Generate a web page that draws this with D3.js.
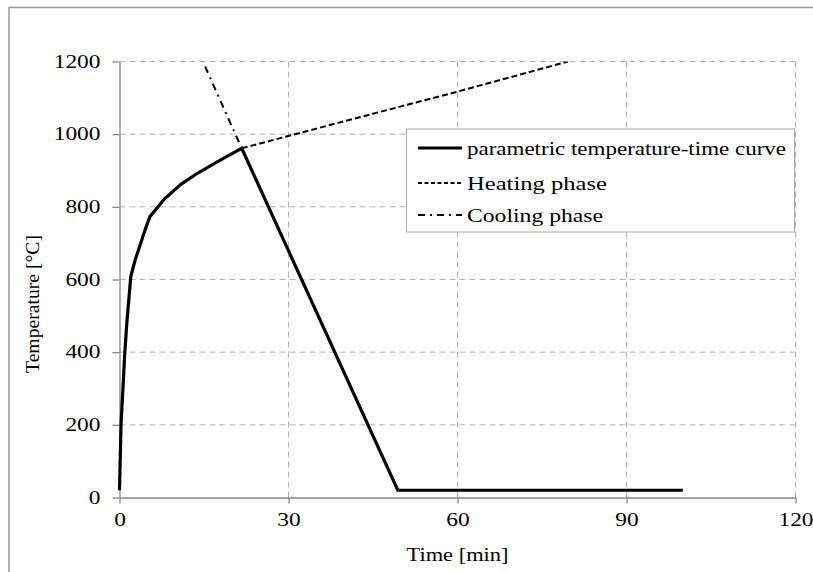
<!DOCTYPE html>
<html><head><meta charset="utf-8">
<script src="https://cdn.jsdelivr.net/npm/d3@7"></script>
<style>body{margin:0;background:#fff}svg{display:block}svg text{font-family:"Liberation Serif","Times New Roman",Times,serif !important;fill:#000}</style>
</head><body>
<script>
// Data
const xTicks = [0, 30, 60, 90, 120];
const yTicks = [0, 200, 400, 600, 800, 1000, 1200];
const curveTime = [0, 0.27, 0.95, 1.3, 2.0, 2.8, 3.6, 4.5, 5.4, 8, 10.9, 13.5, 16.1, 19, 21.7, 49.4, 100];
const curveTemp = [20, 200, 400, 480, 608, 655, 692, 735, 773, 822, 862, 889, 913, 938, 961, 20, 20];
const heatTime = [21.7, 40, 60, 79.6];
const heatTemp = [961, 1036, 1117, 1200];
const coolTime = [21.2, 14.8];
const coolTemp = [978, 1200];
const legendLabels = ["parametric temperature-time curve", "Heating phase", "Cooling phase"];
const xTitle = "Time [min]";
const yTitle = "Temperature [°C]";

const W = 813, H = 572;
const FONT = '"Liberation Serif","Times New Roman",Times,serif';
const svg = d3.select("body").append("svg").attr("width", W).attr("height", H).attr("font-family", FONT);
const x = d3.scaleLinear().domain([0, 120]).range([119.5, 795.5]);
const y = d3.scaleLinear().domain([0, 1200]).range([497.5, 61.5]);

// outer border
svg.append("rect").attr("x", 9).attr("y", 7.5).attr("width", 830).attr("height", 600)
  .attr("fill", "none").attr("stroke", "#999").attr("stroke-width", 1.5);

// grid
const grid = svg.append("g").attr("stroke", "#b3b3b3").attr("stroke-width", 1).attr("stroke-dasharray", "6,4");
yTicks.filter(d => d > 0).forEach(d => grid.append("line").attr("x1", x(0)).attr("x2", x(120)).attr("y1", y(d)).attr("y2", y(d)));
xTicks.filter(d => d > 0).forEach(d => grid.append("line").attr("y1", y(0)).attr("y2", y(1200)).attr("x1", x(d)).attr("x2", x(d)));

// axes
const fmt = d3.format("d");
const xAxis = svg.append("g").attr("transform", `translate(0,${y(0)})`)
  .call(d3.axisBottom(x).tickValues(xTicks).tickFormat(fmt).tickSize(6).tickSizeOuter(0).tickPadding(10));
const yAxis = svg.append("g").attr("transform", `translate(${x(0)},0)`)
  .call(d3.axisLeft(y).tickValues(yTicks).tickFormat(fmt).tickSize(7).tickSizeOuter(0).tickPadding(12));
[xAxis, yAxis].forEach(a => {
  a.attr("font-family", FONT).attr("font-size", 18);
  a.select(".domain").attr("stroke", "#888").attr("stroke-width", 1.3);
  a.selectAll(".tick line").attr("stroke", "#888").attr("stroke-width", 1.3);
  a.selectAll("text").attr("fill", "#000")
    .each(function(d){ d3.select(this).attr("textLength", String(d).length*11.7).attr("lengthAdjust","spacingAndGlyphs"); });
});

// axis titles
svg.append("text").attr("x", x(60)).attr("y", 561).attr("text-anchor", "middle").attr("font-size", 18)
  .attr("textLength", 102).attr("lengthAdjust", "spacingAndGlyphs").text(xTitle);
svg.append("text").attr("transform", `translate(39,304) rotate(-90)`).attr("text-anchor", "middle").attr("font-size", 18)
  .attr("textLength", 138).attr("lengthAdjust", "spacingAndGlyphs").text(yTitle);

const line = d3.line().x(d => x(d[0])).y(d => y(d[1]));
svg.append("clipPath").attr("id", "pc").append("rect")
  .attr("x", x(0)).attr("y", y(1200)).attr("width", x(120) - x(0)).attr("height", y(0) - y(1200));
const plot = svg.append("g").attr("clip-path", "url(#pc)");

plot.append("path").datum(d3.zip(heatTime, heatTemp)).attr("d", line)
  .attr("fill", "none").attr("stroke", "#000").attr("stroke-width", 2).attr("stroke-dasharray", "6,3");
plot.append("path").datum(d3.zip(coolTime, coolTemp)).attr("d", line)
  .attr("fill", "none").attr("stroke", "#000").attr("stroke-width", 2).attr("stroke-dasharray", "7,5,2,5");
svg.append("path").datum(d3.zip(curveTime, curveTemp)).attr("d", line)
  .attr("fill", "none").attr("stroke", "#000").attr("stroke-width", 3.2).attr("stroke-linejoin", "miter");

// legend
const lg = svg.append("g");
lg.append("rect").attr("x", 406.5).attr("y", 129).attr("width", 388).attr("height", 103)
  .attr("fill", "#fff").attr("stroke", "#aaa").attr("stroke-width", 1);
const rowY = [148, 183, 215];
const styles = [{w: 3, d: null}, {w: 2, d: "4,2.5"}, {w: 2, d: "7,5,2,5"}];
const widths = [319, 140, 136];
legendLabels.forEach((lab, i) => {
  lg.append("line").attr("x1", 418).attr("x2", 462).attr("y1", rowY[i]).attr("y2", rowY[i])
    .attr("stroke", "#000").attr("stroke-width", styles[i].w).attr("stroke-dasharray", styles[i].d);
  lg.append("text").attr("x", 467).attr("y", rowY[i] + 6.5).attr("font-size", 19)
    .attr("textLength", widths[i]).attr("lengthAdjust", "spacingAndGlyphs").text(lab);
});
</script>
</body></html>
